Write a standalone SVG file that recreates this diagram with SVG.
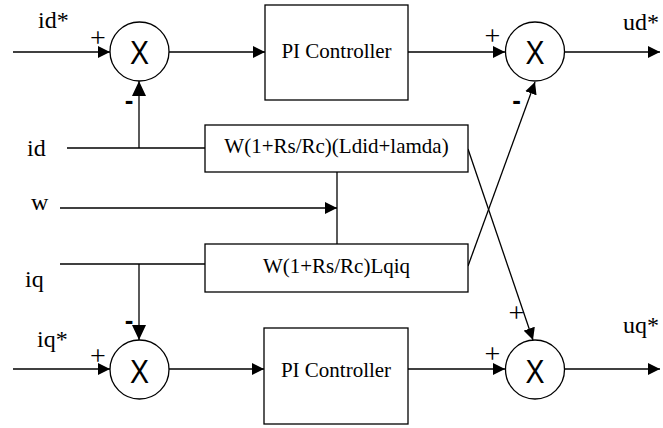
<svg xmlns="http://www.w3.org/2000/svg" width="663" height="428" viewBox="0 0 663 428">
<defs>
<style>
.ln{stroke:#000;stroke-width:1.3;fill:none}
.bx{stroke:#000;stroke-width:1.3;fill:#fff}
.cir{stroke:#000;stroke-width:1.3;fill:#fff}
text{font-family:'Liberation Serif','Times New Roman',Times,serif}
.lbl{font-size:24px;fill:#000}
.btx{font-size:21px;fill:#000;text-anchor:middle}
.sgn{font-size:28px;fill:#000;text-anchor:middle}
text.neg{font-family:'Liberation Sans',Arial,sans-serif;font-size:26px;font-weight:bold;fill:#000;text-anchor:middle}
text.x{font-family:'Liberation Sans',Arial,sans-serif;font-size:34px;fill:#000;text-anchor:middle}
</style>
<marker id="ah" markerUnits="userSpaceOnUse" markerWidth="12" markerHeight="12" viewBox="0 0 10 10" refX="10" refY="5" orient="auto">
<path d="M0,0 L10,5 L0,10 Z" fill="#000"/>
</marker>
<marker id="ahb" markerUnits="userSpaceOnUse" markerWidth="15" markerHeight="14" viewBox="0 0 15 14" refX="15" refY="7" orient="auto">
<path d="M0,0 L15,7 L0,14 Z" fill="#000"/>
</marker>
</defs>
<rect width="663" height="428" fill="#fff"/>

<g id="connectors">
<line class="ln" x1="13" y1="52" x2="110" y2="52" marker-end="url(#ah)"/>
<line class="ln" x1="67" y1="148" x2="205" y2="148"/>
<line class="ln" x1="139" y1="148" x2="139" y2="81" marker-end="url(#ahb)"/>
<line class="ln" x1="169" y1="52" x2="265" y2="52" marker-end="url(#ah)"/>
<line class="ln" x1="408" y1="52" x2="505" y2="52" marker-end="url(#ah)"/>
<line class="ln" x1="565" y1="52" x2="660" y2="52" marker-end="url(#ah)"/>
<line class="ln" x1="60" y1="208" x2="337" y2="208" marker-end="url(#ah)"/>
<line class="ln" x1="337" y1="172" x2="337" y2="244"/>
<line class="ln" x1="60" y1="264" x2="205" y2="264"/>
<line class="ln" x1="139" y1="264" x2="139" y2="340" marker-end="url(#ahb)"/>
<line class="ln" x1="13" y1="369" x2="110" y2="369" marker-end="url(#ah)"/>
<line class="ln" x1="169" y1="369" x2="264" y2="369" marker-end="url(#ah)"/>
<line class="ln" x1="408" y1="369" x2="505" y2="369" marker-end="url(#ah)"/>
<line class="ln" x1="565" y1="369" x2="660" y2="369" marker-end="url(#ah)"/>
<line class="ln" x1="468" y1="149" x2="533" y2="340" marker-end="url(#ah)"/>
<line class="ln" x1="468" y1="266" x2="535" y2="82" marker-end="url(#ah)"/>
</g>

<g id="sum_d">
<circle class="cir" cx="139.5" cy="51.5" r="29.5"/>
<text class="x" x="139.5" y="64" textLength="19" lengthAdjust="spacingAndGlyphs">X</text>
</g>
<g id="sum_q">
<circle class="cir" cx="139.5" cy="369.5" r="29.5"/>
<text class="x" x="139.5" y="383" textLength="19" lengthAdjust="spacingAndGlyphs">X</text>
</g>
<g id="sum_ud">
<circle class="cir" cx="535" cy="51.5" r="29.5"/>
<text class="x" x="535" y="64" textLength="19" lengthAdjust="spacingAndGlyphs">X</text>
</g>
<g id="sum_uq">
<circle class="cir" cx="535" cy="369.5" r="29.5"/>
<text class="x" x="535" y="383" textLength="19" lengthAdjust="spacingAndGlyphs">X</text>
</g>

<g id="pi_d">
<rect class="bx" x="265" y="5" width="143" height="95"/>
<text class="btx" x="336.5" y="58">PI Controller</text>
</g>
<g id="pi_q">
<rect class="bx" x="264" y="328" width="144" height="96"/>
<text class="btx" x="336" y="377">PI Controller</text>
</g>
<g id="ff_d">
<rect class="bx" x="205" y="125" width="263" height="47"/>
<text class="btx" x="336.5" y="153">W(1+Rs/Rc)(Ldid+lamda)</text>
</g>
<g id="ff_q">
<rect class="bx" x="205" y="244" width="263" height="48"/>
<text class="btx" x="336.5" y="273">W(1+Rs/Rc)Lqiq</text>
</g>

<g id="labels">
<text class="lbl" x="38" y="28">id*</text>
<text class="lbl" x="27" y="156">id</text>
<text class="lbl" x="31" y="210">w</text>
<text class="lbl" x="25" y="287">iq</text>
<text class="lbl" x="37" y="347">iq*</text>
<text class="lbl" x="623" y="30">ud*</text>
<text class="lbl" x="623" y="333">uq*</text>
<text class="sgn" x="98" y="47">+</text>
<text class="sgn" x="492.5" y="45">+</text>
<text class="sgn" x="98" y="365">+</text>
<text class="sgn" x="492.5" y="363">+</text>
<text class="sgn" x="516.5" y="322">+</text>
<text class="neg" x="129" y="109">-</text>
<text class="neg" x="129" y="329">-</text>
<text class="neg" x="516.5" y="109">-</text>
</g>
</svg>
